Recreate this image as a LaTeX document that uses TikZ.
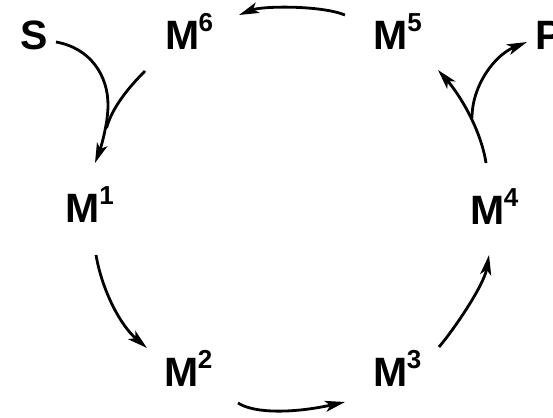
\documentclass[tikz,border=0pt]{standalone}
\usepackage{fontspec}
\setmainfont{Liberation Sans}
\usetikzlibrary{arrows.meta}
\newcommand{\Mlab}[1]{M\kern-0.5pt\raisebox{18pt}{\fontsize{26}{26}\selectfont #1}}
\begin{document}
\begin{tikzpicture}[x=1pt,y=-1pt,
  lab/.style={inner sep=0pt,anchor=base west,font=\fontsize{41}{44}\selectfont\bfseries},
  conn/.style={line width=2.8pt,-{Stealth[length=20pt,width=11pt,inset=5pt]}},
  plain/.style={line width=2.8pt}]
\useasboundingbox (0,0) rectangle (553,417);
% labels
\node[lab] (S) at (20,50) {S};
\node[lab] (m6) at (164.8,50) {\Mlab{6}};
\node[lab] (m5) at (373.4,50) {\Mlab{5}};
\node[lab] (P) at (535,50) {P};
\node[lab] (m1) at (65.4,222) {\Mlab{1}};
\node[lab] (m4) at (470,224) {\Mlab{4}};
\node[lab] (m2) at (164,386) {\Mlab{2}};
\node[lab] (m3) at (373,386) {\Mlab{3}};
% connector ends
\coordinate (m5out) at (345,15);
\coordinate (m6in) at (239,15);
\coordinate (sout) at (56,42);
\coordinate (smid) at (108,105);
\coordinate (m1in) at (95,163);
\coordinate (m6out) at (145,71);
\coordinate (join1) at (106.5,128);
\coordinate (m1out) at (96,255);
\coordinate (m2in) at (147,348);
\coordinate (m2out) at (238,403);
\coordinate (m3in) at (345,402);
\coordinate (m3out) at (439,347);
\coordinate (m4in) at (489,255);
\coordinate (m4out) at (486,163);
\coordinate (m5in) at (438,70);
\coordinate (join2) at (472,118);
\coordinate (pin) at (527,42);
% connectors
\draw[conn] (m5out) .. controls (320,5) and (262,6) .. (m6in);
\draw[conn] (sout) .. controls (90,48) and (108,75) .. (smid)
  .. controls (108,125) and (100,150) .. (m1in);
\draw[plain] (m6out) .. controls (128,88) and (112,108) .. (join1);
\draw[conn] (m1out) .. controls (102,290) and (120,325) .. (m2in);
\draw[conn] (m2out) .. controls (255,414) and (295,413) .. (m3in);
\draw[conn] (m3out) .. controls (455,328) and (484,285) .. (m4in);
\draw[conn] (m4out) .. controls (481,130) and (460,95) .. (m5in);
\draw[conn] (join2) .. controls (472,85) and (495,55) .. (pin);
\end{tikzpicture}
\end{document}
